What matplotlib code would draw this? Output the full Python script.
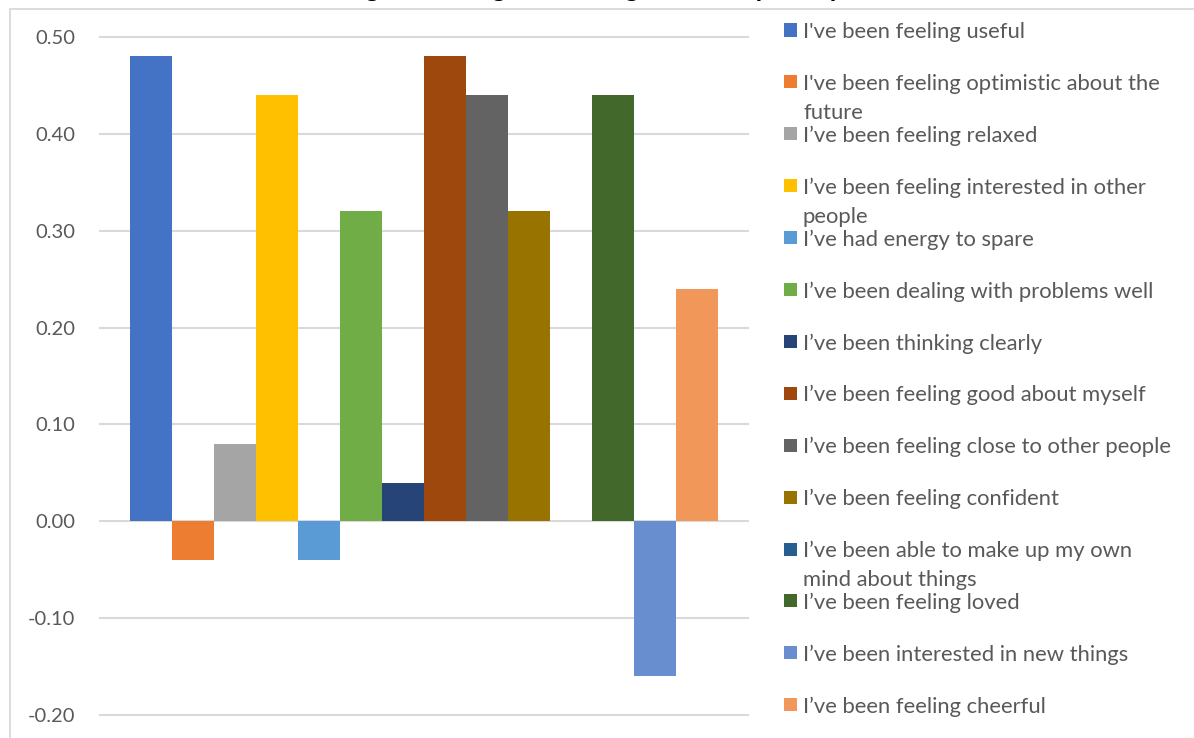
import matplotlib
matplotlib.use("Agg")
import matplotlib.pyplot as plt
from matplotlib.patches import Rectangle

plt.rcParams['font.family'] = ['Lato', 'DejaVu Sans']

labels = [
    "I've been feeling useful",
    "I've been feeling optimistic about the\nfuture",
    "I\u2019ve been feeling relaxed",
    "I\u2019ve been feeling interested in other\npeople",
    "I\u2019ve had energy to spare",
    "I\u2019ve been dealing with problems well",
    "I\u2019ve been thinking clearly",
    "I\u2019ve been feeling good about myself",
    "I\u2019ve been feeling close to other people",
    "I\u2019ve been feeling confident",
    "I\u2019ve been able to make up my own\nmind about things",
    "I\u2019ve been feeling loved",
    "I\u2019ve been interested in new things",
    "I\u2019ve been feeling cheerful",
]
values = [0.48, -0.04, 0.08, 0.44, -0.04, 0.32, 0.04, 0.48, 0.44, 0.32, 0.00, 0.44, -0.16, 0.24]
colors = ["#4472C4", "#ED7D31", "#A5A5A5", "#FFC000", "#5B9BD5", "#70AD47", "#264478",
          "#9E480E", "#636363", "#997300", "#255E91", "#43682B", "#698ED0", "#F1975A"]
yticks = [-0.20, -0.10, 0.00, 0.10, 0.20, 0.30, 0.40, 0.50]
title = "Change in average wellbeing score for participants"

W, H = 1194, 738
fig = plt.figure(figsize=(W / 100, H / 100), dpi=100)

# chart frame
fig.add_artist(Rectangle((10 / W, -0.1), 1.2, 1.1 - 9 / H, transform=fig.transFigure,
                         fill=False, edgecolor="#D9D9D9", linewidth=1.3))

# title sits mostly above the top edge of the canvas
fig.text(600 / W, 1 + 2.5 / H, title, ha="center", va="baseline",
         fontsize=19, fontweight="bold", color="#000000")

ax = fig.add_axes([100 / W, 1 - 715 / H, 648 / W, (715 - 37) / H])
n = len(values)
pos = [i - (n - 1) / 2 for i in range(n)]
ax.bar(pos, values, width=1.0, color=colors, zorder=3)
half = n / 2 + 0.72
ax.set_xlim(-half, half)
ax.set_ylim(-0.20, 0.50)

for y in yticks:
    ax.axhline(y, color="#D9D9D9", linewidth=1.5, zorder=1, clip_on=False)

for s in ax.spines.values():
    s.set_visible(False)
ax.set_xticks([])
ax.set_yticks(yticks)
ax.set_yticklabels([f"{v:.2f}" for v in yticks])
ax.tick_params(axis="y", length=0, pad=18, labelsize=14.5, labelcolor="#595959")

# legend on the right, fixed pitch per entry, wrapped lines spill below
for i, (lab, c) in enumerate(zip(labels, colors)):
    yc = 30 + i * 51.9
    fig.add_artist(Rectangle((784 / W, 1 - (yc + 6.5) / H), 13 / W, 13 / H,
                             transform=fig.transFigure, facecolor=c, edgecolor="none"))
    for j, line in enumerate(lab.split("\n")):
        fig.text(803 / W, 1 - (yc + j * 29) / H, line, ha="left", va="center_baseline",
                 fontsize=15.8, color="#595959")

fig.savefig("out.png", dpi=100)
